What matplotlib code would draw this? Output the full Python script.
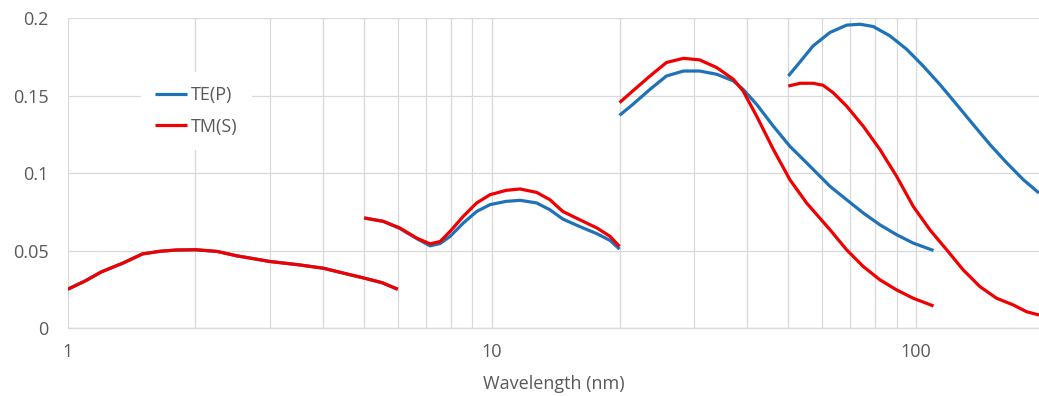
import numpy as np
import matplotlib.pyplot as plt
from matplotlib.ticker import LogLocator, FixedLocator, NullFormatter

# segment 1 (both polarisations overlap)
x1 = [1, 1.1, 1.2, 1.35, 1.5, 1.65, 1.8, 2, 2.25, 2.5, 3, 3.5, 4, 4.5, 5, 5.5, 6]
te1 = [0.025, 0.0304, 0.0362, 0.0419, 0.0478, 0.0495, 0.0503, 0.0505, 0.0494, 0.0466, 0.0429, 0.0408,
       0.0386, 0.0352, 0.0322, 0.0293, 0.025]
tm1 = list(te1)

# segment 2
x2 = [5, 5.55, 6.07, 6.65, 7.15, 7.55, 7.97, 8.56, 9.21, 9.9, 10.8, 11.65, 12.75, 13.7, 14.7, 16.1, 17.7, 19.0, 20]
te2 = [0.071, 0.0688, 0.0642, 0.0577, 0.053, 0.0545, 0.0591, 0.0677, 0.0752, 0.0796, 0.0817, 0.0824, 0.0807,
       0.0763, 0.0703, 0.0655, 0.0608, 0.0565, 0.0509]
tm2 = [0.071, 0.0688, 0.0645, 0.058, 0.0543, 0.0558, 0.0623, 0.072, 0.0807, 0.086, 0.0888, 0.0897, 0.0875,
       0.0828, 0.0752, 0.0699, 0.0645, 0.0591, 0.0526]

# segment 3
x3 = [20, 21.5, 23.6, 25.8, 28.3, 30.9, 33.9, 37.1, 39.1, 42.1, 46.1, 50.4, 55.2, 62.7, 68.6, 75.1, 82.2, 90, 98.5, 110]
te3 = [0.1372, 0.1443, 0.154, 0.1626, 0.1658, 0.1658, 0.1637, 0.1594, 0.154, 0.1443, 0.1302, 0.1173, 0.1066,
       0.0914, 0.0828, 0.0742, 0.0666, 0.0602, 0.0548, 0.05]
tm3 = [0.1454, 0.153, 0.1626, 0.1713, 0.174, 0.173, 0.168, 0.1605, 0.153, 0.1367, 0.1152, 0.0958, 0.0807,
       0.0634, 0.0505, 0.0397, 0.0311, 0.0246, 0.0192, 0.0142]

# segment 4
x4te = [50, 52.3, 57.2, 62.7, 68.6, 73.8, 79.3, 86.8, 95.0, 104.0, 113.8, 124.6, 136.4, 149.4, 163.6, 178.9, 195]
te4 = [0.1626, 0.169, 0.182, 0.1907, 0.1954, 0.196, 0.1945, 0.1885, 0.1799, 0.169, 0.1572, 0.1443, 0.1313,
       0.1184, 0.1066, 0.0958, 0.0871]
x4tm = [50, 53.3, 57.2, 60.4, 63.8, 68.6, 75.1, 82.2, 90, 98.5, 107.8, 118.1, 129.2, 141.5, 154.9, 169.5, 182.3, 195]
tm4 = [0.1561, 0.1579, 0.1579, 0.1566, 0.1518, 0.1432, 0.1302, 0.1152, 0.0979, 0.0785, 0.0634, 0.0505, 0.0375,
       0.0267, 0.0192, 0.0149, 0.0105, 0.0084]

blue = '#1F72B8'
red = '#F00000'
grey = '#595959'
gridc = '#D9D9D9'

plt.rcParams['font.family'] = ['Open Sans', 'DejaVu Sans']

fig = plt.figure(figsize=(10.39, 3.96), dpi=100)
ax = fig.add_axes([0.0652, 0.1717, 0.9348, 0.7828])

segs = [(x1, te1, x1, tm1), (x2, te2, x2, tm2), (x3, te3, x3, tm3), (x4te, te4, x4tm, tm4)]
for i, (xa, te, xb, tm) in enumerate(segs):
    ax.plot(xa, te, color=blue, lw=2.3, solid_capstyle='butt', solid_joinstyle='round',
            label='TE(P)' if i == 0 else None, zorder=3)
    ax.plot(xb, tm, color=red, lw=2.3, solid_capstyle='butt', solid_joinstyle='round',
            label='TM(S)' if i == 0 else None, zorder=4)

ax.set_xscale('log')
ax.set_xlim(1, 195)
ax.set_ylim(0, 0.2)
ax.set_yticks([0, 0.05, 0.1, 0.15, 0.2])
ax.set_yticklabels(['0', '0.05', '0.1', '0.15', '0.2'])
ax.xaxis.set_major_locator(FixedLocator([1, 10, 100]))
ax.set_xticklabels(['1', '10', '100'])
ax.xaxis.set_minor_locator(LogLocator(base=10, subs=np.arange(2, 10)))
ax.xaxis.set_minor_formatter(NullFormatter())

ax.grid(True, which='both', axis='x', color=gridc, lw=0.9)
ax.grid(True, which='major', axis='y', color=gridc, lw=0.9)
ax.set_axisbelow(True)
for s in ['top', 'right', 'left']:
    ax.spines[s].set_visible(False)
ax.spines['bottom'].set_color(gridc)
ax.spines['bottom'].set_linewidth(1.0)

ax.tick_params(axis='both', which='both', length=0, labelcolor=grey, labelsize=13)
ax.tick_params(axis='y', pad=14)
ax.tick_params(axis='x', pad=11)
ax.set_xlabel('Wavelength (nm)', color=grey, fontsize=13, labelpad=10)

leg = ax.legend(loc='center left', bbox_to_anchor=(0.066, 0.70), frameon=True,
                fancybox=False, edgecolor='none', facecolor='white', framealpha=1,
                fontsize=13, handlelength=1.75, handletextpad=0.2, labelspacing=0.75,
                borderpad=0.8, labelcolor=grey)

fig.savefig('out.png', dpi=100)
